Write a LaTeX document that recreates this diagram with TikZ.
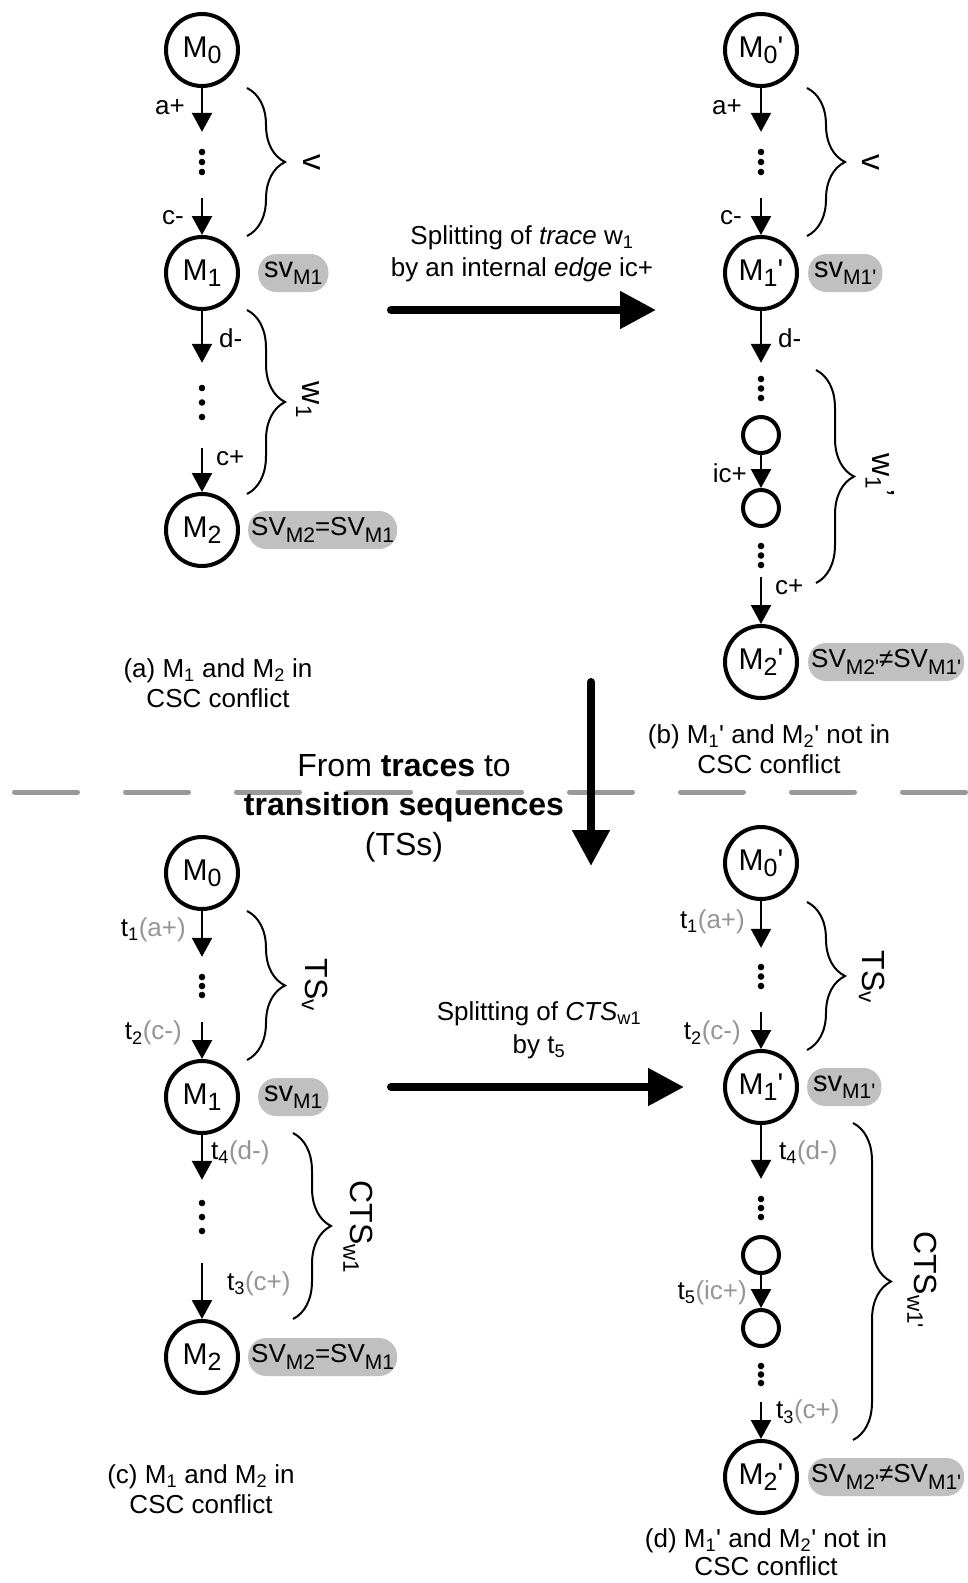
\documentclass[tikz,border=0pt]{standalone}
\usepackage{fontspec}
\setmainfont{Liberation Sans}
\usepackage{tikz}
\usetikzlibrary{arrows.meta, positioning, decorations.pathreplacing}

\definecolor{badgegray}{RGB}{192,192,192}
\definecolor{tracegray}{RGB}{150,150,150}
\definecolor{sepgray}{RGB}{153,153,153}

\newcommand{\msub}[1]{\raisebox{-6pt}{\fontsize{25}{25}\selectfont #1}}
\newcommand{\vsub}[1]{\raisebox{-7pt}{\fontsize{21}{21}\selectfont #1}}
\newcommand{\prm}{\textquotesingle}
\newcommand{\trl}[2]{t\textsubscript{#1}\textcolor{tracegray}{(#2)}}

\begin{document}
\begin{tikzpicture}[
        x=1pt, y=-1pt,
        font=\fontsize{26}{30}\selectfont,
        state/.style={circle, draw=black, line width=4pt, minimum size=72pt, inner sep=0pt, font=\fontsize{30}{32}\selectfont},
        ministate/.style={circle, draw=black, line width=4pt, minimum size=36pt, inner sep=0pt},
        ellip/.style={rectangle, minimum width=8pt, minimum height=#1, inner sep=0pt},
        badge/.style={rectangle, fill=badgegray, rounded corners=18pt, minimum height=38pt, inner xsep=6pt, inner ysep=0pt, font=\fontsize{29}{30}\selectfont},
        cmp/.style={inner xsep=3pt, font=\fontsize{26}{28}\selectfont},
        lab/.style={inner sep=0pt},
        flow/.style={-{Triangle[length=19pt,width=20pt]}, line width=2.4pt},
        bigarrow/.style={-{Triangle[length=36pt,width=36pt]}, line width=8pt, line cap=round},
        brc/.style={decorate, decoration={brace, amplitude=38pt}, line width=2pt},
        brclab/.style={rotate=-90, font=\fontsize{32}{34}\selectfont},
        capt/.style={align=center, font=\fontsize{26}{30}\selectfont}
    ]

    \path[use as bounding box, fill=white] (0,0) rectangle (968,1583);

    % separator between the two halves
    \coordinate (sepl) at (14.5,792);
    \coordinate (sepr) at (990,792);
    \draw[sepgray, line width=5pt, line cap=round, dash pattern=on 63pt off 48pt] (sepl) -- (sepr);

    % (a) traces
    \node[state] (M0a) at (202,50) {M\msub{0}};
    \node[ellip=66pt] (e1) at (202,165) {};
    \node[state] (M1a) at (202,273) {M\msub{1}};
    \node[badge, right=18pt of M1a] (b1) {sv\vsub{M1}};
    \node[ellip=85pt] (e2) at (202,405.5) {};
    \node[state] (M2a) at (202,530) {M\msub{2}};
    \node[badge, cmp, right=8pt of M2a] (b2) {SV\vsub{M2}=SV\vsub{M1}};

    \draw[flow] (M0a) -- node[lab, left=16pt, pos=0.43] (la1) {a+} (e1);
    \draw[flow] (e1) -- node[lab, left=17pt, pos=0.54] (la2) {c-} (M1a);
    \draw[flow] (M1a) -- node[lab, right=16pt, pos=0.52] (la3) {d-} (e2);
    \draw[flow] (e2) -- node[lab, right=13pt, pos=0.23] (la4) {c+} (M2a);

    \draw[brc] (247,88) -- (247,236);
    \node[brclab] (lva) at (312,162) {v};
    \draw[brc] (247,310) -- (247,494);
    \node[brclab] (lwa) at (308,400) {w\textsubscript{1}};

    \node[capt] (capa) at (218,683) {(a) M\textsubscript{1} and M\textsubscript{2} in\\CSC conflict};

    % (b) split trace
    \node[state] (M0b) at (761,50) {M\msub{0}\prm};
    \node[ellip=66pt] (e3) at (761,165) {};
    \node[state] (M1b) at (761,273) {M\msub{1}\prm};
    \node[badge, right=9pt of M1b] (b3) {sv\vsub{M1\prm}};
    \node[ellip=51pt] (e4) at (761,388.5) {};
    \node[ministate] (s1) at (761,435) {};
    \node[ministate] (s2) at (761,508) {};
    \node[ellip=43pt] (e5) at (761,555.5) {};
    \node[state] (M2b) at (761,662) {M\msub{2}\prm};
    \node[badge, cmp, right=9pt of M2b] (b4) {SV\vsub{M2\prm}≠SV\vsub{M1\prm}};

    \draw[flow] (M0b) -- node[lab, left=18pt, pos=0.43] (lb1) {a+} (e3);
    \draw[flow] (e3) -- node[lab, left=18pt, pos=0.54] (lb2) {c-} (M1b);
    \draw[flow] (M1b) -- node[lab, right=16pt, pos=0.52] (lb3) {d-} (e4);
    \draw[flow] (s1) -- node[lab, left=13pt, pos=0.55] (lb4) {ic+} (s2);
    \draw[flow] (e5) -- node[lab, right=13pt, pos=0.21] (lb5) {c+} (M2b);

    \draw[brc] (807,88) -- (807,236);
    \node[brclab] (lvb) at (871,162) {v};
    \draw[brc] (816,370) -- (816,583);
    \node[brclab] (lwb) at (880,475) {w\textsubscript{1}'};

    \node[capt] (capb) at (769,749) {(b) M\textsubscript{1}\prm{} and M\textsubscript{2}\prm{} not in\\CSC conflict};

    % top transformation
    \coordinate (t1s) at (391,310);
    \coordinate (t1e) at (656,310);
    \draw[bigarrow] (t1s) -- (t1e);
    \node[capt, font=\fontsize{26}{32}\selectfont] (spa) at (522,254) {Splitting of \textit{trace} w\textsubscript{1}\\by an internal \textit{edge} ic+};

    % traces to TSs
    \coordinate (vs) at (591,682);
    \coordinate (ve) at (591,866);
    \draw[bigarrow] (vs) -- (ve);
    \node[capt, font=\fontsize{32}{39.5}\selectfont] (fromtr) at (404,808) {From \textbf{traces} to\\\textbf{transition sequences}\\(TSs)};

    % (c) transition sequences
    \node[state] (M0c) at (202,873) {M\msub{0}};
    \node[ellip=65pt] (e6) at (202,989.5) {};
    \node[state] (M1c) at (202,1097) {M\msub{1}};
    \node[badge, right=18pt of M1c] (b5) {sv\vsub{M1}};
    \node[ellip=83pt] (e7) at (202,1221.5) {};
    \node[state] (M2c) at (202,1357) {M\msub{2}};
    \node[badge, cmp, right=8pt of M2c] (b6) {SV\vsub{M2}=SV\vsub{M1}};

    \draw[flow] (M0c) -- node[lab, left=15pt, pos=0.41] (lc1) {\trl{1}{a+}} (e6);
    \draw[flow] (e6) -- node[lab, left=19pt, pos=0.3] (lc2) {\trl{2}{c-}} (M1c);
    \draw[flow] (M1c) -- node[lab, right=8pt, pos=0.4] (lc3) {\trl{4}{d-}} (e7);
    \draw[flow] (e7) -- node[lab, right=24pt, pos=0.36] (lc4) {\trl{3}{c+}} (M2c);

    \draw[brc] (247,911) -- (247,1060);
    \node[brclab] (ltsc) at (315,985) {TS\textsubscript{v}};
    \draw[brc] (293,1133) -- (293,1319);
    \node[brclab] (lctsc) at (358,1227) {CTS\textsubscript{w1}};

    \node[capt] (capc) at (201,1489) {(c) M\textsubscript{1} and M\textsubscript{2} in\\CSC conflict};

    % (d) split transition sequence
    \node[state] (M0d) at (761,863) {M\msub{0}\prm};
    \node[ellip=64pt] (e8) at (761,980) {};
    \node[state] (M1d) at (761,1087) {M\msub{1}\prm};
    \node[badge, right=8pt of M1d] (b7) {sv\vsub{M1\prm}};
    \node[ellip=58pt] (e9) at (761,1208) {};
    \node[ministate] (s3) at (761,1255) {};
    \node[ministate] (s4) at (761,1328) {};
    \node[ellip=55pt] (e10) at (761,1374.5) {};
    \node[state] (M2d) at (761,1477) {M\msub{2}\prm};
    \node[badge, cmp, right=9pt of M2d] (b8) {SV\vsub{M2\prm}≠SV\vsub{M1\prm}};

    \draw[flow] (M0d) -- node[lab, left=15pt, pos=0.45] (ld1) {\trl{1}{a+}} (e8);
    \draw[flow] (e8) -- node[lab, left=19pt, pos=0.57] (ld2) {\trl{2}{c-}} (M1d);
    \draw[flow] (M1d) -- node[lab, right=17pt, pos=0.52] (ld3) {\trl{4}{d-}} (e9);
    \draw[flow] (s3) -- node[lab, left=13pt, pos=0.55] (ld4) {\trl{5}{ic+}} (s4);
    \draw[flow] (e10) -- node[lab, right=14pt, pos=0.27] (ld5) {\trl{3}{c+}} (M2d);

    \draw[brc] (807,902) -- (807,1050);
    \node[brclab] (ltsd) at (872,977) {TS\textsubscript{v}};
    \draw[brc] (853,1123) -- (853,1440);
    \node[brclab] (lctsd) at (922,1280) {CTS\textsubscript{w1\prm}};

    \node[capt, font=\fontsize{26}{28}\selectfont] (capd) at (766,1552) {(d) M\textsubscript{1}\prm{} and M\textsubscript{2}\prm{} not in\\CSC conflict};

    % bottom transformation
    \coordinate (t2s) at (391,1087);
    \coordinate (t2e) at (684,1087);
    \draw[bigarrow] (t2s) -- (t2e);
    \node[capt, font=\fontsize{26}{33}\selectfont] (spb) at (539,1030) {Splitting of \textit{CTS}\textsubscript{w1}\\by t\textsubscript{5}};

    % ellipsis dots
    \foreach \e/\s/\o in {e1/10/-3, e2/14.5/-3, e3/10/-3, e4/9.5/0, e5/9.5/0, e6/9/-3.5, e7/14/-4.5, e8/9.5/-3.5, e9/9/0, e10/8.5/0}
        \fill (\e) ++(0,\o-\s) circle (3.3) ++(0,\s) circle (3.3) ++(0,\s) circle (3.3);

\end{tikzpicture}
\end{document}
